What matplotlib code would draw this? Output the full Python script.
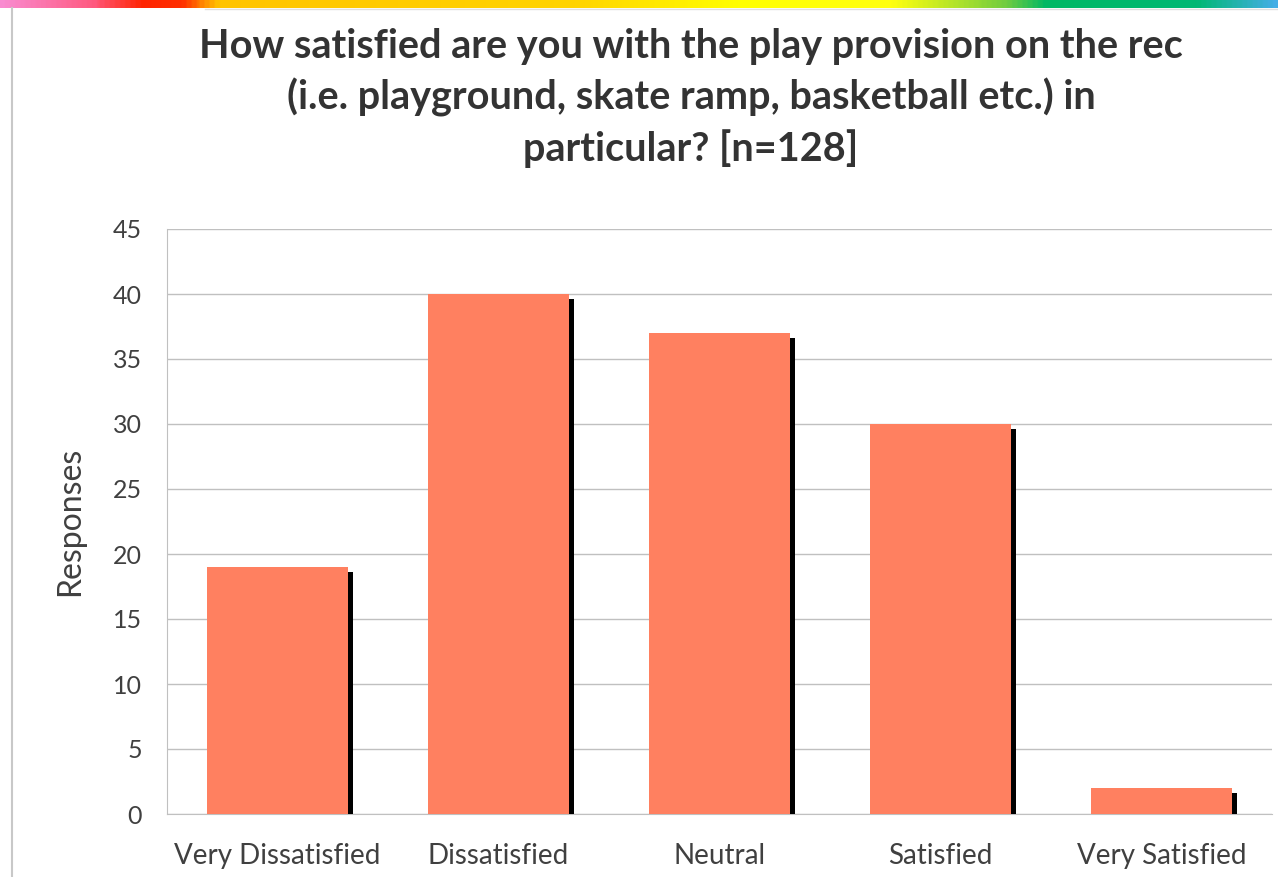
import numpy as np
import matplotlib
matplotlib.use('Agg')
import matplotlib.pyplot as plt
import matplotlib.patheffects as pe
from matplotlib.colors import LinearSegmentedColormap

# data
categories = ['Very Dissatisfied', 'Dissatisfied', 'Neutral', 'Satisfied', 'Very Satisfied']
responses = [19, 40, 37, 30, 2]
yticks = [0, 5, 10, 15, 20, 25, 30, 35, 40, 45]

plt.rcParams['font.family'] = ['Lato', 'DejaVu Sans']

fig = plt.figure(figsize=(12.78, 8.77), dpi=100)

# rainbow strip at top
strip = fig.add_axes([0, 1 - 8/877, 1, 8/877])
rainbow = LinearSegmentedColormap.from_list('rb', [
    (0.0, '#f98bd0'), (0.07, '#ff5a80'), (0.11, '#ff2400'), (0.14, '#ff3000'),
    (0.17, '#ffc400'), (0.45, '#ffd400'), (0.58, '#ffff00'), (0.70, '#ffff10'),
    (0.79, '#70cc40'), (0.82, '#00b864'), (0.94, '#00b874'), (1.0, '#44aee6')])
strip.imshow(np.linspace(0, 1, 500)[None, :], aspect='auto', cmap=rainbow)
strip.set_axis_off()

# chart border lines
fig.add_artist(plt.Line2D([12/1278, 12/1278], [0, 1 - 8/877], color='#c8c8c8', lw=1.5))
fig.add_artist(plt.Line2D([205/1278, 1], [1 - 9/877, 1 - 9/877], color='#e0e0e0', lw=1))

ax = fig.add_axes([167/1278, 1 - 814/877, 1105/1278, 585/877])
x = np.arange(len(categories))
bars = ax.bar(x, responses, width=0.64, color='#ff8060', zorder=3)
for b in bars:
    b.set_path_effects([pe.SimplePatchShadow(offset=(3.6, -3.6), shadow_rgbFace='black', alpha=1.0),
                        pe.Normal()])

ax.set_xlim(-0.5, len(categories) - 0.5)
ax.set_ylim(0, 45)
ax.set_yticks(yticks)
ax.set_xticks(x)
ax.set_xticklabels(categories, fontsize=20, color='#404040')
ax.tick_params(axis='y', labelsize=18, colors='#404040', length=0, pad=18)
ax.tick_params(axis='x', length=0, pad=21)
ax.yaxis.grid(True, color='#c0c0c0', lw=1, zorder=0)
for s in ['top', 'right']:
    ax.spines[s].set_visible(False)
ax.spines['left'].set_color('#c0c0c0')
ax.spines['bottom'].set_color('#c0c0c0')
ax.set_ylabel('Responses', fontsize=23, color='#404040', labelpad=20)

fig.text(691/1278, 1 - 98/877,
         'How satisfied are you with the play provision on the rec\n'
         '(i.e. playground, skate ramp, basketball etc.) in\n'
         'particular? [n=128]',
         ha='center', va='center', fontsize=28.5, fontweight='bold', color='#333333',
         linespacing=1.4)

fig.savefig('out.png', dpi=100)
